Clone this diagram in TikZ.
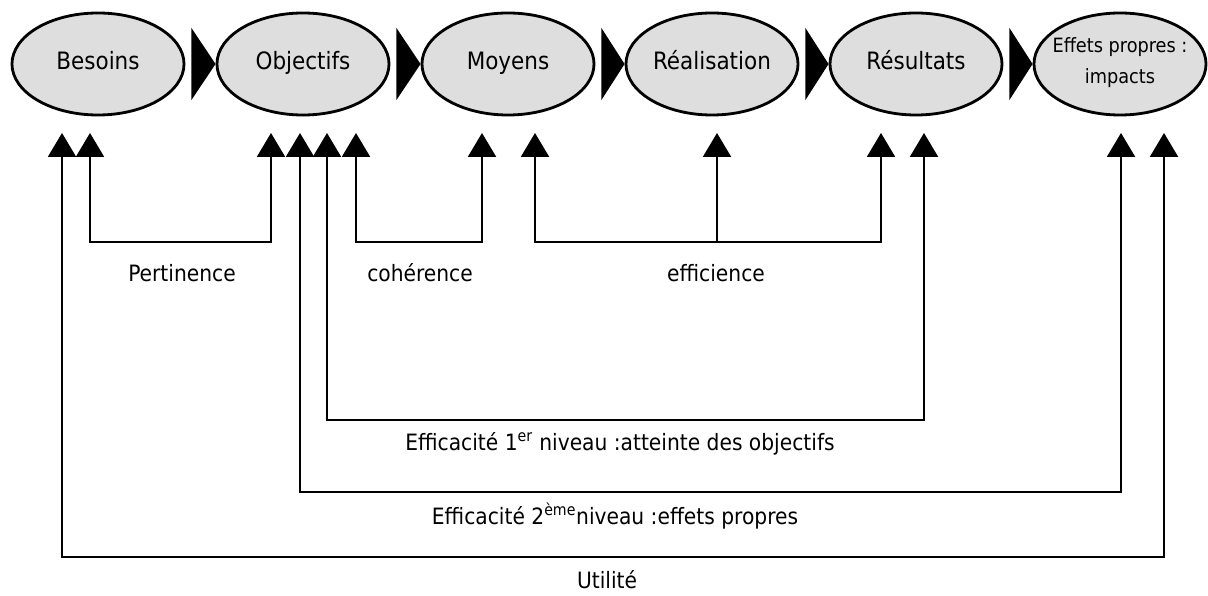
\documentclass[tikz,border=0pt]{standalone}
\usepackage{fontspec}
\setmainfont{DejaVu Sans Condensed}
\usetikzlibrary{arrows.meta,shapes.geometric}

\definecolor{fond}{RGB}{222,222,222}
\tikzset{
	etape/.style={ellipse, draw, line width=2pt, fill=fond, minimum width=4.3cm, minimum height=2.55cm, inner sep=0pt, font=\fontsize{17}{19}\selectfont, execute at begin node=\strut},
	lien/.style={line width=1pt, {Triangle[length=17pt,width=20pt]}-{Triangle[length=17pt,width=20pt]}},
	fleche/.style={line width=1pt, -{Triangle[length=17pt,width=20pt]}},
	etiquette/.style={font=\fontsize{16}{18}\selectfont},
}

\begin{document}
\begin{tikzpicture}[x=0.025cm, y=-0.025cm]
		\useasboundingbox (0,0) rectangle (1208,596);
		% les etapes
		\node[etape] (besoins) at (98,64) {Besoins};
		\node[etape] (objectifs) at (303,64) {Objectifs};
		\node[etape] (moyens) at (508,64) {Moyens};
		\node[etape] (realisation) at (712,64) {Réalisation};
		\node[etape] (resultats) at (916,64) {Résultats};
		\node[etape, align=center, inner xsep=-8pt, font=\fontsize{14}{17}\selectfont] (effets) at (1120,64) {Effets propres :\\[5pt]impacts};
		\foreach \a/\b in {besoins/objectifs, objectifs/moyens, moyens/realisation, realisation/resultats, resultats/effets}
			\fill ([xshift=0.15cm]\a.east) ++(0,-36) -- ++(0,72) -- (\b.west) -- cycle;
		% pointes des fleches
		\coordinate (b1) at (62,133);
		\coordinate (b2) at (90,133);
		\coordinate (o1) at (271,133);
		\coordinate (o2) at (300,133);
		\coordinate (o3) at (327,133);
		\coordinate (o4) at (356,133);
		\coordinate (m1) at (482,133);
		\coordinate (m2) at (535,133);
		\coordinate (r1) at (717,133);
		\coordinate (s1) at (881,133);
		\coordinate (s2) at (924,133);
		\coordinate (e1) at (1121,133);
		\coordinate (e2) at (1164,133);
		% les criteres
		\draw[lien] (b2) -- ++(0,109) -| (o1);
		\draw[lien] (o4) -- ++(0,109) -| (m1);
		\draw[lien] (m2) -- ++(0,109) coordinate (coude) -| (s1);
		\draw[fleche] (r1 |- coude) -- (r1);
		\draw[lien] (o3) -- ++(0,287) -| (s2);
		\draw[lien] (o2) -- ++(0,359) -| (e1);
		\draw[lien] (b1) -- ++(0,424) -| (e2);
		\node[etiquette] (pertinence) at (182,273) {Pertinence};
		\node[etiquette] (coherence) at (420,273) {cohérence};
		\node[etiquette] (efficience) at (716,273) {efficience};
		\node[etiquette] (efficacite1) at (620,444) {Efficacité 1\textsuperscript{er} niveau :atteinte des objectifs};
		\node[etiquette] (efficacite2) at (615,516) {Efficacité 2\textsuperscript{ème}niveau :effets propres};
		\node[etiquette] (utilite) at (607,580) {Utilité};
	\end{tikzpicture}
\end{document}
